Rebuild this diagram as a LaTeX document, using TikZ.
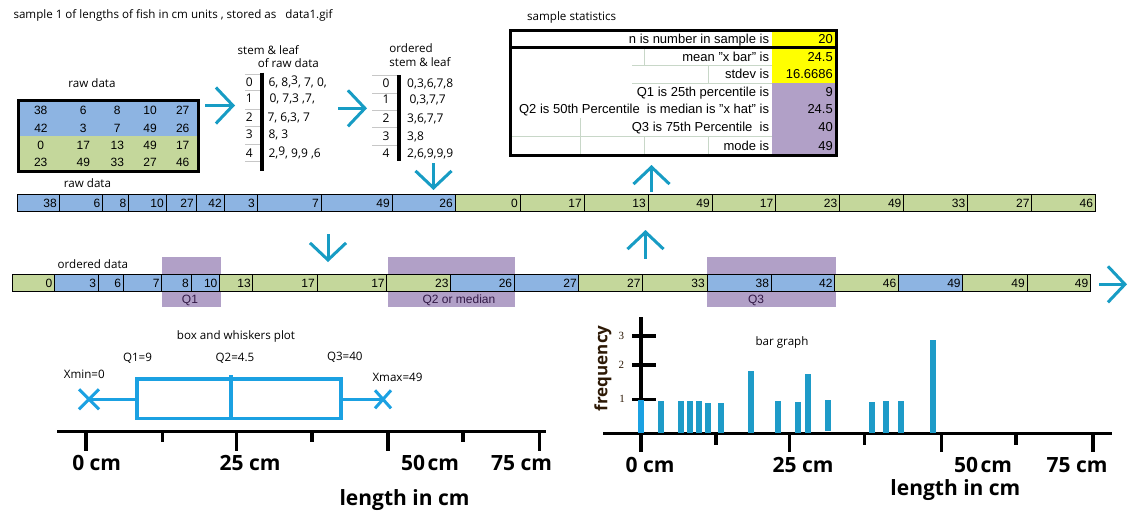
\documentclass[tikz,border=0pt]{standalone}
\usepackage{fontspec}
\setmainfont{Liberation Sans}
\newfontfamily\osans{Open Sans}
\newfontfamily\lserif{Liberation Serif}
\usetikzlibrary{arrows.meta,calc}
\definecolor{cblue}{RGB}{141,180,226}
\definecolor{cgreen}{RGB}{196,215,155}
\definecolor{cpurple}{RGB}{177,160,199}
\definecolor{cyellow}{RGB}{255,255,0}
\definecolor{arrowc}{RGB}{23,156,196}
\definecolor{boxc}{RGB}{27,161,226}
\definecolor{barc}{RGB}{30,155,200}
\definecolor{gridc}{RGB}{200,215,200}
\definecolor{freqc}{RGB}{45,25,5}
\definecolor{qtxt}{RGB}{50,25,70}
\tikzset{
 lbl/.style={font=\osans\fontsize{11.6}{13}\selectfont, inner sep=0pt, text height=8.3pt, text depth=0pt},
 num/.style={font=\fontsize{12}{14}\selectfont, inner sep=0pt, text height=8.6pt, text depth=0pt},
 stat/.style={font=\fontsize{13}{15}\selectfont, inner sep=0pt, text height=9.3pt, text depth=0pt},
 stemtxt/.style={font=\osans\fontsize{12}{14}\selectfont, inner sep=0pt, text height=8.6pt, text depth=0pt},
 axlbl/.style={font=\osans\bfseries\fontsize{21}{24}\selectfont, inner sep=0pt, text height=15pt, text depth=0pt},
 qlbl/.style={font=\fontsize{12}{14}\selectfont, text=qtxt, inner sep=0pt, text height=8.6pt, text depth=0pt},
 flow/.style={draw=arrowc, line width=3pt, -{Straight Barb[length=17pt,width=36pt]}},
 gridl/.style={draw=gridc, line width=0.8pt},
 sgrid/.style={draw=black!22, line width=0.8pt},
 bp/.style={draw=boxc, line width=3.4pt},
 axisl/.style={draw=black, line width=2.8pt},
 tickl/.style={draw=black, line width=3.4pt},
 freqlbl/.style={font=\lserif\fontsize{11}{13}\selectfont, text=freqc, inner sep=0pt},
}
\begin{document}
\begin{tikzpicture}[x=1pt,y=-1pt]
\useasboundingbox (0,0) rectangle (1129,517);
\fill[white] (0,0) rectangle (1129,517);

% title
\node[lbl, anchor=west] (title) at (13.3,14) {sample 1 of lengths of fish in cm units , stored as\ \ \ data1.gif};

% raw data table
\node[lbl] (rawlbl) at (92,83) {raw data};
\fill[cblue] (18.3,100) rectangle (198.3,136);
\fill[cgreen] (18.3,136) rectangle (198.3,171.7);
\draw[line width=3pt] (18.3,100) rectangle (198.3,171.7);
\foreach \v/\x/\y [count=\i] in {38/40.7/110,6/83.3/110,8/117.3/110,10/150/110,27/182.7/110,
 42/41/128.3,3/83.3/128.3,7/117.3/128.3,49/150/128.3,26/182.7/128.3,
 0/40.7/145,17/83.3/145,13/117.3/145,49/150/145,17/182.7/145,
 23/40.7/162.3,49/83.3/162.3,33/117.3/162.3,27/150/162.3,46/182.7/162.3}
 {\node[num] (t\i) at (\x,\y) {\v};}

% stem & leaf of raw data
\node[lbl] (sla) at (268.3,50) {stem \& leaf};
\node[lbl] (slb) at (288.3,63.3) {of raw data};
\foreach \y in {74,90.7,109,126.7,144,161.7} \draw[sgrid] (245,\y) -- (261,\y);
\draw[line width=4pt] (262.3,72.7) -- (262.3,170.7);
\foreach \d/\y in {0/81.7,1/98.3,2/116.7,3/134,4/153.3} \node[stemtxt] (sa\d) at (249.3,\y) {\d};
\node[stemtxt, anchor=west] (la0) at (268.3,81.7) {6, 8,\raisebox{2pt}{3}, 7, 0,};
\node[stemtxt, anchor=west] (la1) at (269.3,98.3) {0, 7,3 ,7,};
\node[stemtxt, anchor=west] (la2) at (267.3,116.7) {7, 6,3, 7};
\node[stemtxt, anchor=west] (la3) at (268.3,134) {8, 3};
\node[stemtxt, anchor=west] (la4) at (268.3,153.3) {2,\raisebox{2pt}{9}, 9,9 ,6};

% ordered stem & leaf
\node[lbl] (soa) at (411,48) {ordered};
\node[lbl] (sob) at (420,62) {stem \& leaf};
\foreach \y in {75,93,110,127,145} \draw[sgrid] (372,\y) -- (398,\y);
\draw[line width=4pt] (399,75) -- (399,161);
\foreach \d/\y in {0/83,1/99,2/118,3/136,4/153} \node[stemtxt] (sb\d) at (386,\y) {\d};
\node[stemtxt, anchor=west] (lb0) at (407,83) {0,3,6,7,8};
\node[stemtxt, anchor=west] (lb1) at (409.3,99) {0,3,7,7};
\node[stemtxt, anchor=west] (lb2) at (407,118) {3,6,7,7};
\node[stemtxt, anchor=west] (lb3) at (407,136) {3,8};
\node[stemtxt, anchor=west] (lb4) at (407,153) {2,6,9,9,9};

% sample statistics
\node[lbl] (sslbl) at (571.7,16.7) {sample statistics};
\fill[cyellow] (771.7,30) rectangle (835,83);
\fill[cpurple] (771.7,83) rectangle (835,155.7);
\draw[gridl] (644,47.7) -- (644,65.7);
\draw[gridl] (632,65.7) -- (771.7,65.7);
\draw[gridl] (708,65.7) -- (708,83);
\draw[gridl] (632,83) -- (771.7,83);
\draw[gridl] (580,118) -- (580,136.7);
\draw[gridl] (512,136.7) -- (771.7,136.7);
\foreach \x in {580,644,708} \draw[gridl] (\x,136.7) -- (\x,155.7);
\draw[line width=3pt] (510,30) rectangle (836,155.7);
\draw[line width=2.5pt] (510,47.7) -- (836,47.7);
\foreach \t/\v/\y [count=\i] in {n is number in sample is/20/39,
 mean "x bar" is/24.5/56.7,
 stdev is/16.6686/74.3,
 Q1 is 25th percentile is/9/91.8,
 Q2 is 50th Percentile\ \ is median is "x hat" is/24.5/109.3,
 Q3 is 75th Percentile\ \ is/40/127.3,
 mode is/49/146.2}
 {\node[stat, anchor=east] (sl\i) at (769.3,\y) {\t};
  \node[stat, anchor=east] (sv\i) at (833,\y) {\v};}

% raw data strip
\node[lbl] (rslbl) at (87.5,183.3) {raw data};
\foreach \l/\r/\v/\c [count=\i] in {17/59/38/cblue,59/102.5/6/cblue,102.5/128.6/8/cblue,128.6/166/10/cblue,166/196/27/cblue,196/224/42/cblue,224/257/3/cblue,257/321/7/cblue,321/392/49/cblue,392/455/26/cblue,455/520/0/cgreen,520/584/17/cgreen,584/648/13/cgreen,648/712/49/cgreen,712/775.5/17/cgreen,775.5/839.4/23/cgreen,839.4/903.6/49/cgreen,903.6/967.5/33/cgreen,967.5/1031.7/27/cgreen,1031.7/1095.2/46/cgreen}
 {\filldraw[fill=\c, draw=black, line width=0.9pt] (\l,194) rectangle (\r,211.7);
  \node[num, anchor=east] (raw\i) at ({\r-2},203) {\v};}

% ordered data strip
\node[lbl] (oslbl) at (92.9,264.3) {ordered data};
\fill[cpurple] (161.8,257.3) rectangle (220.7,307.3);
\fill[cpurple] (387.5,257.3) rectangle (515.4,307.3);
\fill[cpurple] (707,257.3) rectangle (835.8,307.3);
\foreach \l/\r/\v/\c [count=\i] in {12.5/54.6/0/cgreen,54.6/98.2/3/cblue,98.2/123.2/6/cblue,123.2/161.8/7/cblue,161.8/191/8/cblue,191/219.6/10/cblue,219.6/252.9/13/cgreen,252.9/317/17/cgreen,317/386.8/17/cgreen,386.8/450.7/23/cgreen,450.7/514.3/26/cblue,514.3/578.9/27/cblue,578.9/642.7/27/cgreen,642.7/707/33/cgreen,707/771.2/38/cblue,771.2/834.7/42/cblue,834.7/898.5/46/cgreen,898.5/962.8/49/cblue,962.8/1027/49/cgreen,1027/1090.5/49/cgreen}
 {\filldraw[fill=\c, draw=black, line width=0.9pt] (\l,274.3) rectangle (\r,291.7);
  \node[num, anchor=east] (ord\i) at ({\r-2},283) {\v};}
\node[qlbl] (q1l) at (190,299.5) {Q1};
\node[qlbl] (q2l) at (459,299.5) {Q2 or median};
\node[qlbl] (q3l) at (756,299.5) {Q3};

% flow arrows
\coordinate (a1s) at (205,105.5); \coordinate (a1e) at (235,105.5);
\coordinate (a2s) at (338,108.3); \coordinate (a2e) at (367,108.3);
\coordinate (a3s) at (433.5,163); \coordinate (a3e) at (433.5,190);
\coordinate (a4s) at (651.5,192); \coordinate (a4e) at (651.5,165);
\coordinate (a5s) at (328,234); \coordinate (a5e) at (328,262);
\coordinate (a6s) at (645.5,258.5); \coordinate (a6e) at (645.5,230);
\coordinate (a7s) at (1099,284.3); \coordinate (a7e) at (1127,284.3);
\foreach \k in {1,...,7} \draw[flow] (a\k s) -- (a\k e);

% box and whiskers plot
\node[lbl] (bwlbl) at (236,335) {box and whiskers plot};
\node[lbl] (q1b) at (137.5,357.7) {Q1=9};
\node[lbl] (q2b) at (235,357.7) {Q2=4.5};
\node[lbl] (q3b) at (344.8,356) {Q3=40};
\node[lbl] (xminb) at (84.3,374.3) {Xmin=0};
\node[lbl] (xmaxb) at (397.5,377.3) {Xmax=49};
\draw[bp] (137,379) rectangle (341,418.7);
\draw[bp] (231,375) -- (231,418.7);
\coordinate (xmin) at (89,399.3);
\coordinate (xmax) at (383,399.3);
\draw[bp] (xmin) -- (137,399.3);
\draw[bp] (341,399.3) -- (xmax);
\draw[draw=boxc, line width=3pt] ($(xmin)+(-10,-10)$) -- ($(xmin)+(10,10)$) ($(xmin)+(-10,10)$) -- ($(xmin)+(10,-10)$);
\draw[draw=boxc, line width=3pt] ($(xmax)+(-8,-9)$) -- ($(xmax)+(8,9)$) ($(xmax)+(-8,9)$) -- ($(xmax)+(8,-9)$);
\draw[axisl] (57,431.5) -- (546,431.5);
\foreach \x in {86,236.3,387.8,539.3} \draw[tickl] (\x,431.5) -- (\x,450.5);
\foreach \x in {162.2,312,462.9} \draw[tickl] (\x,431.5) -- (\x,442);
\node[axlbl] (b0) at (96.7,462.5) {0 cm};
\node[axlbl] (b25) at (250,462.5) {25 cm};
\node[axlbl] (b50) at (430,462.5) {50\hspace{2.5pt}cm};
\node[axlbl] (b75) at (521.6,462.5) {75 cm};
\node[axlbl] (blen) at (404.5,498) {length in cm};

% bar graph
\node[lbl] (bglbl) at (782,341.7) {bar graph};
\draw[axisl] (603,433.3) -- (1112,433.3);
\draw[tickl] (641,317) -- (641,451.7);
\foreach \y in {336,365,399.3} \draw[line width=3.2pt] (632,\y) -- (656,\y);
\foreach \x in {789.4,941.7,1093} \draw[tickl] (\x,433.3) -- (\x,451.7);
\foreach \x in {715.9,864.3,1016} \draw[tickl] (\x,433.3) -- (\x,445);
\fill[boxc] (638,400) rectangle (644.2,433.3);
\foreach \x/\t in {660.9/401,680.8/401,689.9/401,699.1/401,707.5/403.3,720.8/403.3,750.5/371,777.8/401,797.8/402,808.3/374,871.7/402,885.7/401,900.7/401,932.9/340}
 \fill[barc] ({\x-3},\t) rectangle ({\x+3},433.3);
\fill[barc] (824.9,400) rectangle (830.9,430.7);
\node[freqlbl] (f3) at (621.3,336) {3};
\node[freqlbl] (f2) at (621.3,365) {2};
\node[freqlbl] (f1) at (622,398.5) {1};
\node[font=\osans\bfseries\fontsize{17}{20}\selectfont, text=freqc, rotate=90, inner sep=0pt] (freq) at (603,368.3) {frequency};
\node[axlbl] (g0) at (650,465) {0 cm};
\node[axlbl] (g25) at (803,465) {25 cm};
\node[axlbl] (g50) at (983,465) {50\hspace{2.5pt}cm};
\node[axlbl] (g75) at (1077,465) {75 cm};
\node[axlbl] (glen) at (955.4,488) {length in cm};
\end{tikzpicture}
\end{document}
